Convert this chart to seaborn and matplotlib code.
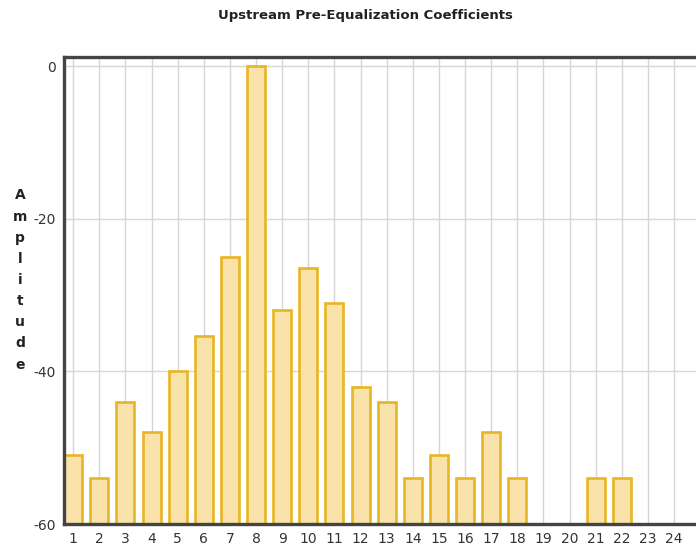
import numpy as np
import pandas as pd
import matplotlib
matplotlib.use('Agg')
import matplotlib.pyplot as plt
import seaborn as sns

# Tap index and coefficient amplitude (dB)
taps = [str(i) for i in range(1, 25)]
amplitude = [-51, -54, -44, -48, -40, -35.4, -25, 0, -32, -26.4, -31, -42,
             -44, -54, -51, -54, -48, -54, -60, -60, -54, -54, -60, -60]
y_ticks = [0, -20, -40, -60]
baseline = -60

df = pd.DataFrame({'tap': taps, 'amp': amplitude})
df['height'] = df['amp'] - baseline

sns.set_style('white')
plt.rcParams['font.family'] = ['DejaVu Sans']

fig = plt.figure(figsize=(6.96, 5.57), dpi=100)
ax = fig.add_axes([64 / 696, 1 - 524 / 557, 1 - 64 / 696, (524 - 57) / 557])

sns.barplot(data=df, x='tap', y='height', bottom=baseline, ax=ax,
            color='#F9E3AA', edgecolor='#E8B523', linewidth=1.9,
            width=0.69, saturation=1, zorder=3)
for p in ax.patches:
    p.set_clip_on(False)

ax.set_ylim(-60, 1.2)
ax.set_xlim(-0.35, 23.84)
ax.set_yticks(y_ticks)
ax.set_yticklabels([str(v) for v in y_ticks])
ax.grid(True, color='#d6d6d6', linewidth=1.0, zorder=0)
ax.set_axisbelow(True)
ax.tick_params(length=0, labelsize=10, colors='#333333', pad=6)
ax.set_xlabel('')
ax.set_ylabel('')

for side in ['left', 'top', 'bottom']:
    ax.spines[side].set_color('#444444')
    ax.spines[side].set_linewidth(2.4)
    ax.spines[side].set_zorder(4)
ax.spines['right'].set_visible(False)

fig.text(365 / 696, 1 - 16 / 557, 'Upstream Pre-Equalization Coefficients',
         ha='center', va='center', fontsize=9.5, fontweight='bold', color='#222222')
fig.text(20 / 696, 1 - 280 / 557, '\n'.join('Amplitude'), ha='center', va='center',
         fontsize=10, fontweight='bold', color='#222222', linespacing=1.65)

fig.savefig('out.png', dpi=100)
